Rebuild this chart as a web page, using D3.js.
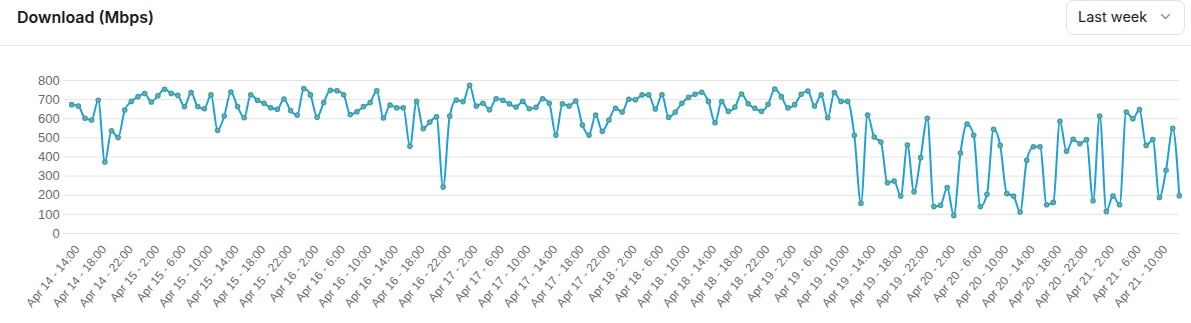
<!DOCTYPE html>
<html>
<head>
<meta charset="utf-8">
<script src="https://cdn.jsdelivr.net/npm/d3@7"></script>
<style>
  html, body { margin: 0; padding: 0; background: #ffffff; }
  svg { display: block; }
</style>
</head>
<body>
<svg id="chart" width="1191" height="323"></svg>
<script>
// ---------------- data ----------------
const chartTitle = "Download (Mbps)";
const rangeLabel = "Last week";

// hourly download speed (Mbps), Apr 14 14:00 -> Apr 21 13:00
const downloadMbps = [
  671, 664, 600, 591, 694, 371, 535, 499, 643, 688, 713, 729, 685, 718, 751, 730,
  720, 661, 734, 661, 650, 722, 537, 612, 737, 661, 603, 723, 694, 678, 655, 647,
  701, 640, 617, 755, 722, 605, 682, 746, 744, 723, 619, 634, 661, 682, 744, 601,
  669, 654, 655, 453, 688, 546, 580, 607, 240, 612, 695, 687, 772, 664, 678, 645,
  702, 694, 675, 659, 688, 650, 657, 702, 678, 512, 675, 664, 690, 565, 512, 617,
  532, 591, 652, 633, 699, 697, 722, 722, 648, 723, 605, 633, 678, 709, 725, 736,
  688, 577, 687, 636, 659, 727, 676, 652, 636, 673, 753, 713, 654, 671, 725, 742,
  664, 722, 603, 734, 688, 688, 511, 155, 617, 502, 476, 263, 272, 193, 460, 216,
  394, 600, 138, 145, 237, 92, 418, 570, 511, 138, 202, 542, 458, 206, 193, 110,
  380, 451, 451, 148, 160, 584, 427, 490, 467, 488, 169, 612, 113, 193, 148, 633,
  598, 645, 458, 488, 186, 328, 547, 195
];

// category days and hours of the hourly samples
const startDay = 14, startHour = 14;
const categories = downloadMbps.map((_, i) => {
  const h = startHour + i;
  return `Apr ${startDay + Math.floor(h / 24)} - ${h % 24}:00`;
});

// x-axis tick labels (every 4 hours)
const tickLabels = [
  "Apr 14 - 14:00", "Apr 14 - 18:00", "Apr 14 - 22:00",
  "Apr 15 - 2:00", "Apr 15 - 6:00", "Apr 15 - 10:00", "Apr 15 - 14:00", "Apr 15 - 18:00", "Apr 15 - 22:00",
  "Apr 16 - 2:00", "Apr 16 - 6:00", "Apr 16 - 10:00", "Apr 16 - 14:00", "Apr 16 - 18:00", "Apr 16 - 22:00",
  "Apr 17 - 2:00", "Apr 17 - 6:00", "Apr 17 - 10:00", "Apr 17 - 14:00", "Apr 17 - 18:00", "Apr 17 - 22:00",
  "Apr 18 - 2:00", "Apr 18 - 6:00", "Apr 18 - 10:00", "Apr 18 - 14:00", "Apr 18 - 18:00", "Apr 18 - 22:00",
  "Apr 19 - 2:00", "Apr 19 - 6:00", "Apr 19 - 10:00", "Apr 19 - 14:00", "Apr 19 - 18:00", "Apr 19 - 22:00",
  "Apr 20 - 2:00", "Apr 20 - 6:00", "Apr 20 - 10:00", "Apr 20 - 14:00", "Apr 20 - 18:00", "Apr 20 - 22:00",
  "Apr 21 - 2:00", "Apr 21 - 6:00", "Apr 21 - 10:00"
];
const yTicks = [0, 100, 200, 300, 400, 500, 600, 700, 800];

// ---------------- drawing ----------------
const W = 1191, H = 323;
const svg = d3.select("#chart");
const plot = { left: 71.7, right: 1179.3, top: 80, bottom: 233 };

const lineColor = "#21a0d6";
const pointFill = "#9ea655";
const gridColor = "#e4e4e4";
const tickColor = "#6b6b6b";

// header
svg.append("text")
  .attr("x", 17).attr("y", 23)
  .attr("font-family", "Inter, 'Noto Sans', sans-serif")
  .attr("font-size", 16).attr("font-weight", 600)
  .attr("fill", "#1b1b1f")
  .text(chartTitle);

svg.append("line")
  .attr("x1", 0).attr("x2", W).attr("y1", 45.5).attr("y2", 45.5)
  .attr("stroke", "#e6e6e6").attr("stroke-width", 1);

// dropdown
svg.append("rect")
  .attr("x", 1066.5).attr("y", 0.5).attr("width", 118).attr("height", 34)
  .attr("rx", 7).attr("fill", "#fff")
  .attr("stroke", "#e2e2e2");
svg.append("text")
  .attr("x", 1078).attr("y", 22)
  .attr("font-family", "Inter, 'Noto Sans', sans-serif")
  .attr("font-size", 14.5).attr("fill", "#1e1e1e")
  .text(rangeLabel);
svg.append("path")
  .attr("d", "M1161.5,14.5 L1165.5,18.5 L1169.5,14.5")
  .attr("fill", "none").attr("stroke", "#8a8a8a").attr("stroke-width", 1.3)
  .attr("stroke-linecap", "round").attr("stroke-linejoin", "round");

// scales
const x = d3.scalePoint().domain(categories).range([plot.left, plot.right]);
const y = d3.scaleLinear().domain([0, 800]).range([plot.bottom, plot.top]);

// y grid + labels
const yAxis = d3.axisLeft(y).tickValues(yTicks).tickSize(-(plot.right - plot.left + 8)).tickPadding(4);
const gy = svg.append("g")
  .attr("transform", `translate(${plot.left - 8},0)`)
  .call(yAxis);
gy.select(".domain").remove();
gy.selectAll(".tick line").attr("stroke", gridColor).attr("stroke-width", 1);
gy.selectAll(".tick text")
  .attr("font-family", "'Liberation Sans', Arial, Helvetica, sans-serif")
  .attr("font-size", 13).attr("fill", tickColor);
gy.selectAll(".tick line").attr("x1", 0).attr("x2", plot.right - plot.left + 8);

// x axis labels
const xAxis = d3.axisBottom(x).tickValues(tickLabels).tickSize(0).tickPadding(0);
const gx = svg.append("g")
  .attr("transform", `translate(0,${plot.bottom + 14})`)
  .call(xAxis);
gx.select(".domain").remove();
gx.selectAll(".tick text")
  .attr("font-family", "'Liberation Sans', Arial, Helvetica, sans-serif")
  .attr("font-size", 12).attr("fill", tickColor)
  .attr("text-anchor", "end")
  .attr("dy", "0.35em")
  .attr("y", 0)
  .attr("transform", "translate(5,0) rotate(-50)");

// line
const line = d3.line()
  .x((d, i) => x(categories[i]))
  .y(d => y(d))
  .curve(d3.curveMonotoneX);

svg.append("path")
  .datum(downloadMbps)
  .attr("d", line)
  .attr("fill", "none")
  .attr("stroke", lineColor)
  .attr("stroke-width", 2)
  .attr("stroke-linejoin", "round");

// points
svg.append("g")
  .selectAll("circle")
  .data(downloadMbps)
  .join("circle")
  .attr("cx", (d, i) => x(categories[i]))
  .attr("cy", d => y(d))
  .attr("r", 2.2)
  .attr("fill", pointFill)
  .attr("stroke", lineColor)
  .attr("stroke-width", 1.2);
</script>
</body>
</html>
